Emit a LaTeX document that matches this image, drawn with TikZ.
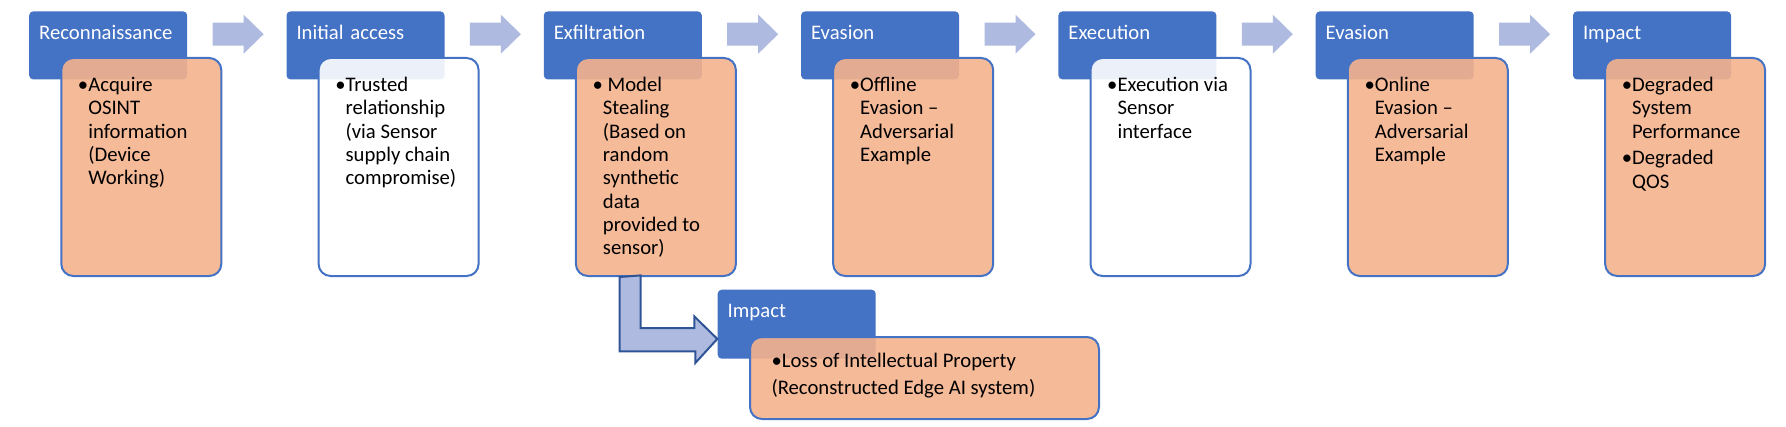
\documentclass[tikz,border=0pt]{standalone}
\usepackage{fontspec}
\setmainfont{Carlito}

\definecolor{tacblue}{HTML}{4472C4}
\definecolor{tacorange}{HTML}{F4B28D}
\definecolor{chevblue}{HTML}{AEBADF}
\definecolor{bentline}{HTML}{2F5597}

\newcommand{\bul}{\leavevmode\llap{\textbullet}}
\newcommand{\tacfont}{\fontsize{10.35pt}{11.65pt}\selectfont}
\newcommand{\dtext}[2][64pt]{\parbox[t]{#1}{\raggedright\leftskip=5.5pt\hyphenpenalty=10000 #2}}

\tikzset{
  phase/.style={rectangle, rounded corners=2pt, fill=tacblue, text=white, anchor=north west,
    inner xsep=5pt, inner ysep=0pt, text width=69pt, align=left,
    text height=14pt, text depth=20pt, font=\tacfont},
  detail/.style={rectangle, rounded corners=6pt, draw=tacblue, line width=1pt, fill=#1,
    fill opacity=0.9, text opacity=1, anchor=north west, inner xsep=8pt, inner ysep=0pt,
    text height=16.85pt, text depth=92.15pt, font=\tacfont},
  detail/.default=tacorange,
  chev/.style={fill=chevblue},
  bent/.style={fill=chevblue, draw=bentline, line width=1pt, line join=miter},
}

\begin{document}
\begin{tikzpicture}[x=0.5pt,y=-0.5pt]
    \useasboundingbox (0,0) rectangle (1786,427);
    % phase headers
    \node[phase] (h1) at (28.8,11) {Reconnaissance};
    \node[phase] (h2) at (286.1,11) {Initial access};
    \node[phase] (h3) at (543.4,11) {Exfiltration};
    \node[phase] (h4) at (800.7,11) {Evasion};
    \node[phase] (h5) at (1058,11) {Execution};
    \node[phase] (h6) at (1315.3,11) {Evasion};
    \node[phase] (h7) at (1572.6,11) {Impact};
    % details
    \node[detail] (b1) at ([shift={(31.5,46)}]h1.north west)
        {\dtext{\bul Acquire\\OSINT\\information\\(Device\\Working)}};
    \node[detail=white] (b2) at ([shift={(31.5,46)}]h2.north west)
        {\dtext{\bul Trusted\\relationship\\(via Sensor\\supply chain\\compromise)}};
    \node[detail] (b3) at ([shift={(31.5,46)}]h3.north west)
        {\dtext{\bul\ Model\\Stealing\\(Based on\\random\\synthetic\\data\\provided to\\sensor)}};
    \node[detail] (b4) at ([shift={(31.5,46)}]h4.north west)
        {\dtext{\bul Offline\\Evasion --\\Adversarial\\Example}};
    \node[detail=white] (b5) at ([shift={(31.5,46)}]h5.north west)
        {\dtext{\bul Execution via\\Sensor\\interface}};
    \node[detail] (b6) at ([shift={(31.5,46)}]h6.north west)
        {\dtext{\bul Online\\Evasion --\\Adversarial\\Example}};
    \node[detail] (b7) at ([shift={(31.5,46)}]h7.north west)
        {\dtext{\bul Degraded\\System\\Performance\par\vspace{1.65pt}\bul Degraded\\QOS}};
    % side branch
    \node[phase, text depth=20.5pt] (h8) at (717.3,289.3) {Impact};
    \node[detail, inner xsep=10.75pt, text height=15.35pt, text depth=25.65pt,
        font={\fontsize{10.35pt}{13.3pt}\selectfont}] (b8) at (749,336)
        {\parbox[t]{153pt}{\raggedright\textbullet Loss of Intellectual Property\\(Reconstructed Edge AI system)}};
    % arrows
    \foreach \a in {h1,h2,h3,h4,h5,h6}
        \fill[chev] ([shift={(25,-22.7)}]\a.east) -- ++(31,0) -- ++(0,-8) -- ++(20,19.5)
            -- ++(-20,19.5) -- ++(0,-8) -- ++(-31,0) -- cycle;
    \filldraw[bent] ([shift={(-36.3,0)}]b3.south) -- ++(0,74.3) -- ++(75.7,0) -- ++(0,11.7)
        -- ([shift={(0,14.7)}]h8.west) -- ++(-23,-22.5) -- ++(0,11.7) -- ++(-53.6,0) -- ++(0,-52.7) -- cycle;
\end{tikzpicture}
\end{document}
